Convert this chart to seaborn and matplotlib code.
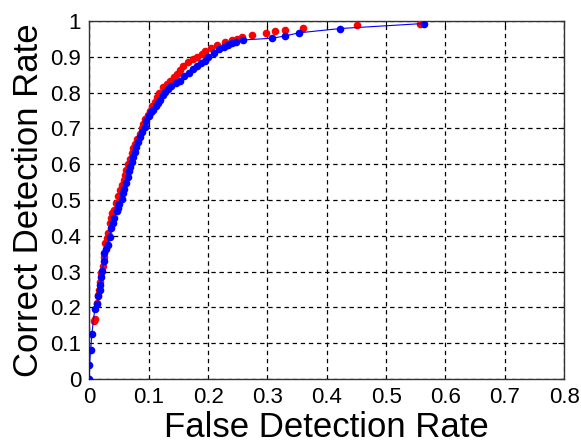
import matplotlib
matplotlib.use("Agg")
import matplotlib.pyplot as plt
import seaborn as sns
import pandas as pd

# Blue series (markers + thin line)
blue_x = [0.000, 0.000, 0.002, 0.004, 0.009, 0.013, 0.015, 0.017, 0.018, 0.020,
          0.021, 0.024, 0.025, 0.028, 0.031, 0.034, 0.037, 0.040, 0.042, 0.046,
          0.048, 0.050, 0.054, 0.057, 0.059, 0.062, 0.065, 0.067, 0.069, 0.071,
          0.073, 0.076, 0.079, 0.082, 0.085, 0.088, 0.093, 0.096, 0.100, 0.104,
          0.107, 0.112, 0.116, 0.119, 0.124, 0.128, 0.132, 0.138, 0.145, 0.153,
          0.160, 0.167, 0.174, 0.181, 0.188, 0.195, 0.200, 0.210, 0.218, 0.226,
          0.234, 0.241, 0.247, 0.259, 0.308, 0.329, 0.353, 0.423, 0.563]
blue_y = [0.000, 0.040, 0.082, 0.126, 0.197, 0.210, 0.232, 0.248, 0.262, 0.285,
          0.301, 0.329, 0.352, 0.362, 0.375, 0.398, 0.421, 0.435, 0.449, 0.468,
          0.478, 0.490, 0.504, 0.520, 0.532, 0.548, 0.565, 0.580, 0.593, 0.607,
          0.620, 0.634, 0.648, 0.662, 0.676, 0.690, 0.704, 0.722, 0.735, 0.745,
          0.752, 0.763, 0.772, 0.780, 0.792, 0.802, 0.810, 0.819, 0.826, 0.833,
          0.846, 0.856, 0.866, 0.875, 0.882, 0.889, 0.900, 0.912, 0.921, 0.927,
          0.932, 0.938, 0.941, 0.947, 0.952, 0.958, 0.967, 0.979, 0.993]

# Red series (markers only)
red_x = [0.007, 0.009, 0.013, 0.015, 0.016, 0.018, 0.020, 0.022, 0.024, 0.027,
         0.029, 0.031, 0.034, 0.036, 0.038, 0.042, 0.044, 0.048, 0.051, 0.055,
         0.058, 0.060, 0.062, 0.065, 0.068, 0.071, 0.074, 0.076, 0.080, 0.085,
         0.088, 0.090, 0.094, 0.098, 0.102, 0.106, 0.110, 0.113, 0.118, 0.124,
         0.130, 0.136, 0.142, 0.147, 0.152, 0.158, 0.166, 0.175, 0.182, 0.189,
         0.195, 0.205, 0.215, 0.229, 0.240, 0.249, 0.257, 0.274, 0.297, 0.312,
         0.329, 0.360, 0.451, 0.557]
red_y = [0.162, 0.167, 0.213, 0.236, 0.250, 0.270, 0.295, 0.315, 0.340, 0.380,
         0.395, 0.407, 0.435, 0.450, 0.463, 0.472, 0.491, 0.510, 0.528, 0.542,
         0.556, 0.570, 0.583, 0.600, 0.615, 0.630, 0.645, 0.657, 0.670, 0.685,
         0.700, 0.713, 0.725, 0.738, 0.750, 0.762, 0.775, 0.787, 0.800, 0.815,
         0.825, 0.833, 0.843, 0.852, 0.862, 0.875, 0.885, 0.893, 0.900, 0.907,
         0.917, 0.925, 0.933, 0.942, 0.946, 0.949, 0.954, 0.962, 0.966, 0.972,
         0.974, 0.981, 0.988, 0.993]

x_ticks = [0, 0.1, 0.2, 0.3, 0.4, 0.5, 0.6, 0.7, 0.8]
x_tick_labels = ["0", "0.1", "0.2", "0.3", "0.4", "0.5", "0.6", "0.7", "0.8"]
y_ticks = [0, 0.1, 0.2, 0.3, 0.4, 0.5, 0.6, 0.7, 0.8, 0.9, 1]
y_tick_labels = ["0", "0.1", "0.2", "0.3", "0.4", "0.5", "0.6", "0.7", "0.8", "0.9", "1"]

sns.set_style("white")
plt.rcParams["font.family"] = ["Liberation Sans", "DejaVu Sans"]
plt.rcParams["text.color"] = "black"
plt.rcParams["axes.labelcolor"] = "black"
plt.rcParams["xtick.color"] = "black"
plt.rcParams["ytick.color"] = "black"

blue_df = pd.DataFrame({"x": blue_x, "y": blue_y})
red_df = pd.DataFrame({"x": red_x, "y": red_y})

fig = plt.figure(figsize=(5.81, 4.47), dpi=100)
ax = fig.add_axes([0.154, 0.152, 0.817, 0.801])

sns.scatterplot(data=red_df, x="x", y="y", ax=ax, color="#ff0000", marker="o",
                s=30, linewidth=0, zorder=3)
sns.lineplot(data=blue_df, x="x", y="y", ax=ax, color="#0000ff", sort=False,
             estimator=None, linewidth=0.8, marker="o", markersize=5.5,
             markeredgewidth=0, zorder=4)

ax.set_xlim(0, 0.8)
ax.set_ylim(0, 1)
ax.set_xticks(x_ticks)
ax.set_xticklabels(x_tick_labels)
ax.set_yticks(y_ticks)
ax.set_yticklabels(y_tick_labels)
ax.grid(True, color="black", linestyle=(0, (3.5, 3)), linewidth=0.9)
ax.set_axisbelow(True)
for sp in ax.spines.values():
    sp.set_visible(True)
    sp.set_color("#333333")
    sp.set_linewidth(1.0)
ax.tick_params(axis="both", direction="in", length=4, width=0.8, labelsize=16,
               top=True, right=True, colors="black", pad=6)
ax.set_xlabel("False Detection Rate", fontsize=25, labelpad=2, color="black")
ax.set_ylabel("Correct Detection Rate", fontsize=25, labelpad=4, color="black")

fig.savefig("out.png", dpi=100, facecolor="white")
